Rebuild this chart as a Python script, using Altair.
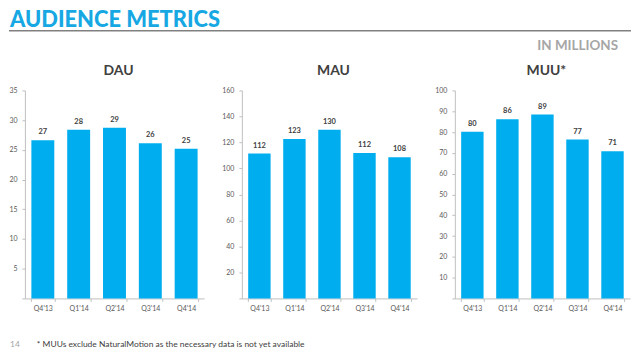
import altair as alt
import pandas as pd

# ---- data ----
quarters = ["Q4'13", "Q1'14", "Q2'14", "Q3'14", "Q4'14"]

dau_values = [26.6, 28.4, 28.7, 26.1, 25.2]
dau_labels = ["27", "28", "29", "26", "25"]

mau_values = [111.5, 122.6, 129.7, 111.8, 108.5]
mau_labels = ["112", "123", "130", "112", "108"]

muu_values = [80.1, 86.2, 88.4, 76.4, 70.8]
muu_labels = ["80", "86", "89", "77", "71"]

page_title = "AUDIENCE METRICS"
unit_note = "IN MILLIONS"
page_number = "14"
footnote = "* MUUs exclude NaturalMotion as the necessary data is not yet available"

# ---- styling ----
BAR = "#00aeef"
TITLE_BLUE = "#17a8e3"
DARK = "#404040"
AXIS_LINE = "#bfbfbf"
AXIS_LABEL = "#595959"
FONT = "Lato"
PLOT_H = 209


def text_layer(txt, x, y, **kw):
    return alt.Chart(pd.DataFrame({"t": [txt]})).mark_text(**kw).encode(
        x=alt.value(x), y=alt.value(y), text="t:N"
    )


def panel(name, values, labels, ymax, step, width, extras=()):
    df = pd.DataFrame({"quarter": quarters, "value": values, "label": labels})
    xenc = alt.X(
        "quarter:N",
        sort=quarters,
        title=None,
        scale=alt.Scale(paddingInner=0.36, paddingOuter=0.18),
        axis=alt.Axis(
            labelAngle=0,
            tickBand="extent",
            tickSize=3,
            labelPadding=3,
            labelFontSize=7,
            labelColor=AXIS_LABEL,
            domainColor=AXIS_LINE,
            tickColor=AXIS_LINE,
        ),
    )
    yenc = alt.Y(
        "value:Q",
        title=None,
        scale=alt.Scale(domain=[0, ymax], nice=False, zero=True),
        axis=alt.Axis(
            values=list(range(0, ymax + 1, step)),
            labelExpr="datum.value === 0 ? '' : datum.label",
            labelOverlap=False,
            grid=False,
            tickSize=3,
            labelPadding=5,
            labelFontSize=7,
            labelColor=AXIS_LABEL,
            domainColor=AXIS_LINE,
            tickColor=AXIS_LINE,
        ),
    )
    bars = alt.Chart(df).mark_bar(color=BAR).encode(x=xenc, y=yenc)
    vals = alt.Chart(df).mark_text(
        dy=-8, fontSize=7.5, fontWeight="bold", color=DARK, baseline="middle"
    ).encode(x=xenc, y=yenc, text="label:N")
    head = text_layer(
        name, width / 2 + 4, -16,
        fontSize=14, fontWeight="bold", color=DARK,
        align="center", baseline="alphabetic",
    )
    return alt.layer(bars, vals, head, *extras).properties(width=width, height=PLOT_H)


# header / footer pieces drawn in the first panel's coordinates (origin = DAU plot top-left)
big_title = text_layer(
    page_title, -15, -81,
    fontSize=22, fontWeight=900, color=TITLE_BLUE, align="left", baseline="top",
)
header_rule = alt.Chart(pd.DataFrame({"t": [page_title]})).mark_rule(
    color="#808080", strokeWidth=1.5
).encode(x=alt.value(-16), x2=alt.value(609), y=alt.value(-60))
note = text_layer(
    unit_note, 596, -41,
    fontSize=13.5, fontWeight="bold", color="#a6a6a6", align="right", baseline="alphabetic",
)
pnum = text_layer(
    page_number, -15, 257.5,
    fontSize=8.5, color="#a6a6a6", align="left", baseline="alphabetic",
)
fnote = text_layer(
    footnote, 12, 257.5,
    fontSize=8.5, color=DARK, align="left", baseline="alphabetic",
)

dau = panel("DAU", dau_values, dau_labels, 35, 5, 180,
            extras=(big_title, header_rule, note, pnum, fnote))
mau = panel("MAU", mau_values, mau_labels, 160, 20, 176)
muu = panel("MUU*", muu_values, muu_labels, 100, 10, 176)

chart = (
    alt.hconcat(dau, mau, muu, spacing=38, bounds="flush")
    .properties(padding=0)
    .configure(font=FONT)
    .configure_view(stroke=None)
)

chart.save("out.html", embed_options={"renderer": "svg", "actions": False})
